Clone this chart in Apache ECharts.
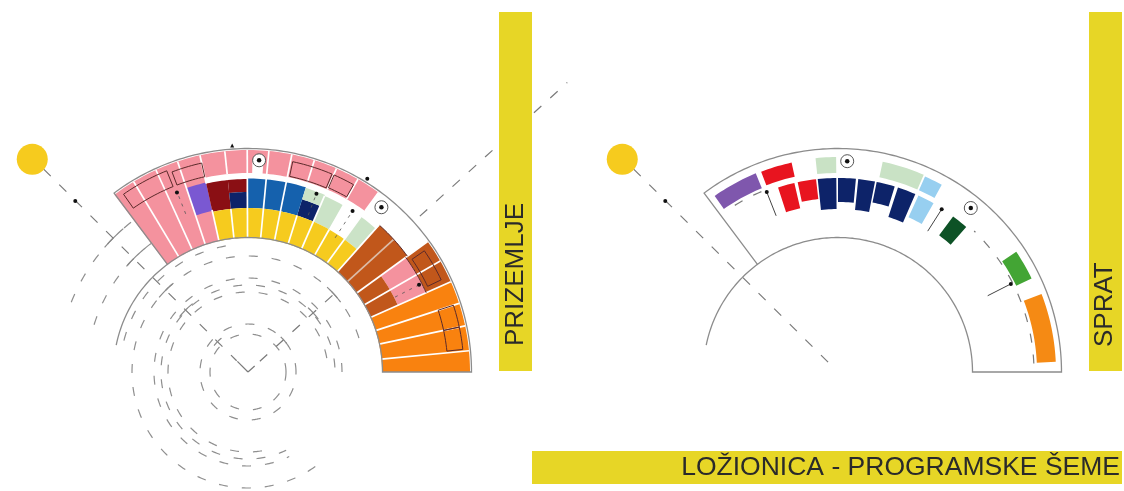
<!DOCTYPE html>
<html>
<head>
<meta charset="utf-8">
<title>Ložionica - programske šeme</title>
<style>
  html, body { margin: 0; padding: 0; background: #fff; }
  #chart { width: 1124px; height: 491px; }
</style>
<script src="https://cdn.jsdelivr.net/npm/echarts@6/dist/echarts.min.js"></script>
</head>
<body>
<div id="chart"></div>
<script>
// all rows are polar: [inner radius, outer radius, start angle, end angle] (degrees, counterclockwise from east)

// prizemlje (left fan)
var pinkCells = [
  [134, 222, 102.5, 127], [199, 222, 54, 102.5], [194, 199, 102.5, 108.5],
  [164, 195, 24, 36]
];
var purpleCells = [[165, 194, 102.5, 108.5]];
var darkRedCells = [[164, 193, 96, 102.5], [180, 193, 90.3, 96]];
var navyCells = [[164, 180, 90.3, 96], [164, 181, 66.5, 72.6]];
var blueCells = [[164, 193.5, 72.6, 90.3]];
var lightGreenCells = [[181, 193, 66.5, 72.6], [164, 192, 60.5, 66.5], [164, 192, 48.5, 54]];
var yellowCells = [[134, 164, 48.5, 102.5]];
var brownCells = [[134, 197, 36, 48.2], [134, 164, 24, 36], [195, 222, 24, 36]];
var orangeCells = [[134, 222, 0, 24]];
var notchCells = [[198, 211, 85.8, 88.8]];
var outlineBoxes = [
  [200, 217, 112, 125], [200, 214, 102.5, 110.8], [200, 215, 67, 78], [201, 215, 60.6, 66.4],
  [199, 214, 25.5, 34.5], [200, 216, 12, 18], [200, 216, 6, 12]
];
var darkArcs = [[197, 36, 48], [195, 24, 36]];

// white lines between the rooms: [angle, from radius, to radius]
var dividers = [
  [121, 134, 222], [114.5, 134, 222], [108.5, 134, 222],
  [102.5, 134, 166], [102.5, 193, 222],
  [96, 134, 164], [96, 199, 222],
  [90.2, 134, 222], [84.6, 134, 222], [78.6, 134, 222],
  [72.6, 134, 164], [72.6, 199, 222],
  [66.5, 134, 192], [66.5, 199, 222],
  [60.3, 134, 164], [60.3, 199, 222],
  [54, 134, 192], [54, 199, 222],
  [48.3, 134, 197],
  [36, 134, 222], [30, 134, 222], [24, 134, 222],
  [18, 134, 222], [12, 134, 222], [5.5, 134, 222]
];
var paleDividers = [[42.3, 134, 197]];

// sprat (right fan)
var upperPurple = [[199, 215, 112.5, 125]];
var upperRed = [[200, 214.5, 102.5, 111], [168, 194, 103, 108], [174, 194, 96.5, 102]];
var upperNavy = [
  [163, 194, 90.5, 96], [170, 194, 84.7, 90], [163, 194, 79, 84],
  [173, 194, 73, 78.5], [163, 194, 66.5, 72]
];
var upperLightGreen = [[199, 215, 90.5, 96], [199, 215, 66.5, 78]];
var upperLightBlue = [[199, 214, 61, 66], [170, 194, 60.5, 65.5]];
var upperDarkGreen = [[170, 193.5, 48.5, 53.5]];
var upperGreen = [[198, 215, 25.8, 34]];
var upperOrange = [[199, 218, 2.7, 21]];

// fan contours: [inner, outer, start, end] and the free inner arc [radius, start, end]
var fanOutline = [134.5, 223.5, 0, 126.8];
var innerArcs = [[134.5, 126.8, 168.5]];

// dashed rings under the left fan: [radius, start, end]
var dashedRings = [
  [38, 0, 360], [48, 0, 360],
  [80, 10, 288], [87, 3, 296], [94, 0, 296],
  [116, 17, 312], [128, 100, 172],
  [161, 127, 167], [190, 128, 160]
];
var upperDashedRings = [[196, 2.5, 46], [196, 113, 125]];

// dashed radials: [angle, from radius, to radius], dashes start at the "from" end
var leftRadials = [[135.2, 288, 16], [42.2, 16, 120], [42.2, 232, 431]];
var rightRadials = [[135.2, 288, 4]];
var centerTicks = [[135.2, 0, 15], [42.2, 0, 9]];

// small ticks where the walk lines cross the rings: [radius, start angle, end angle]
var crossTicks = [[43, 128, 142], [88, 129, 141], [116, 130, 140], [161, 130, 139], [190, 131, 139], [88, 37, 47], [48, 37, 47], [116, 37, 47]];

// entrance arrows: [angle, from radius, to radius]
var leftArrows = [[111.5, 170, 193], [69, 168, 191], [57, 160, 192], [27, 165, 192]];
var rightArrows = [[111.6, 168, 193.5], [57.5, 167, 193], [27, 168, 194]];

// point marks: [radius, angle]
var suns = [[303, 135.4]];
var leftTargets = [[212, 87], [212, 51]];
var rightTargets = [[211, 87.5], [211, 51]];
var leftDots = [[243, 135.3], [193, 111.6], [191, 69], [192, 57], [227, 58.3], [192, 27]];
var rightDots = [[243, 135.3], [193.5, 111.6], [193, 57.5], [194, 27]];
var leftTriangles = [[227, 94]];

var sideLabels = ['PRIZEMLJE', 'SPRAT'];
var footerLabel = 'LOŽIONICA - PROGRAMSKE ŠEME';

var GREY = '#8c8c8c';
var INK = '#2a2a2a';
var BAND = '#e7d626';

function arcPoints(api, r, a0, a1) {
  var pts = [];
  var n = Math.max(2, Math.ceil(Math.abs(a1 - a0)));
  for (var i = 0; i <= n; i++) {
    pts.push(api.coord([r, a0 + (a1 - a0) * i / n]));
  }
  return pts;
}

function sectorPoints(api, r0, r1, a0, a1) {
  return arcPoints(api, r1, a0, a1).concat(arcPoints(api, r0, a1, a0));
}

// filled cells, through the polar axes
function cells(polarIndex, rows, color, z) {
  return {
    type: 'custom',
    coordinateSystem: 'polar',
    polarIndex: polarIndex,
    silent: true,
    z: z || 2,
    data: rows,
    renderItem: function (params, api) {
      return {
        type: 'polygon',
        shape: { points: sectorPoints(api, api.value(0), api.value(1), api.value(2), api.value(3)) },
        style: { fill: color }
      };
    }
  };
}

function boxes(polarIndex, rows, color, width, z) {
  return {
    type: 'custom',
    coordinateSystem: 'polar',
    polarIndex: polarIndex,
    silent: true,
    z: z || 4,
    data: rows,
    renderItem: function (params, api) {
      return {
        type: 'polygon',
        shape: { points: sectorPoints(api, api.value(0), api.value(1), api.value(2), api.value(3)) },
        style: { fill: null, stroke: color, lineWidth: width }
      };
    }
  };
}

function arcs(polarIndex, rows, color, width, dash, z) {
  return {
    type: 'custom',
    coordinateSystem: 'polar',
    polarIndex: polarIndex,
    silent: true,
    z: z || 3,
    data: rows,
    renderItem: function (params, api) {
      return {
        type: 'polyline',
        shape: { points: arcPoints(api, api.value(0), api.value(1), api.value(2)) },
        style: { fill: null, stroke: color, lineWidth: width, lineDash: dash || null }
      };
    }
  };
}

function radials(polarIndex, rows, color, width, dash, z) {
  return {
    type: 'custom',
    coordinateSystem: 'polar',
    polarIndex: polarIndex,
    silent: true,
    z: z || 3,
    data: rows,
    renderItem: function (params, api) {
      return {
        type: 'polyline',
        shape: { points: [api.coord([api.value(1), api.value(0)]), api.coord([api.value(2), api.value(0)])] },
        style: { fill: null, stroke: color, lineWidth: width, lineDash: dash || null }
      };
    }
  };
}

function marks(polarIndex, rows, symbol, size, style, z) {
  style.opacity = 1;
  return {
    type: 'scatter',
    coordinateSystem: 'polar',
    polarIndex: polarIndex,
    silent: true,
    symbol: symbol,
    symbolSize: size,
    itemStyle: style,
    z: z || 6,
    data: rows
  };
}

function targets(polarIndex, rows) {
  return [
    marks(polarIndex, rows, 'circle', 13, { color: '#fff', borderColor: '#555', borderWidth: 1 }),
    marks(polarIndex, rows, 'circle', 4.5, { color: '#111' }, 7)
  ];
}

var series = [
  // left fan
  cells(0, pinkCells, '#f4929e'),
  cells(0, brownCells, '#c1571b'),
  cells(0, orangeCells, '#f9820f'),
  cells(0, purpleCells, '#7a58d2', 3),
  cells(0, darkRedCells, '#8a0f14', 3),
  cells(0, navyCells, '#0d2369', 3),
  cells(0, blueCells, '#1561ad', 3),
  cells(0, lightGreenCells, '#cbe3c7', 3),
  cells(0, yellowCells, '#f6cb1e', 3),
  cells(0, notchCells, '#fff', 3),
  radials(0, dividers, '#fff', 1.7, null, 3),
  radials(0, paleDividers, '#dcbca8', 1.7, null, 3),
  boxes(0, outlineBoxes, '#5c2a2a', 1, 4),
  arcs(0, darkArcs, '#5c2a2a', 1, null, 4),
  boxes(0, [fanOutline], GREY, 1.3, 5),
  arcs(0, innerArcs, GREY, 1.3, null, 5),
  arcs(0, dashedRings, '#8f8f8f', 1.2, [9, 14]),
  radials(0, leftRadials, '#7a7a7a', 1.2, [10, 12]),
  radials(0, centerTicks, '#7a7a7a', 1.2),
  arcs(0, crossTicks, '#8a8a8a', 1.2),
  radials(0, leftArrows, '#555', 0.8, [3, 5], 6),
  marks(0, suns, 'circle', 31, { color: '#f6cb1e' }),
  marks(0, leftDots, 'circle', 4, { color: '#111' }),
  marks(0, leftTriangles, 'triangle', 4, { color: '#111' }),

  // right fan
  cells(1, upperPurple, '#7f57ad'),
  cells(1, upperRed, '#e8141f'),
  cells(1, upperNavy, '#0d2369'),
  cells(1, upperLightGreen, '#c9e2c5'),
  cells(1, upperLightBlue, '#97cff0'),
  cells(1, upperDarkGreen, '#0d5226'),
  cells(1, upperGreen, '#43a534'),
  cells(1, upperOrange, '#f58a14'),
  boxes(1, [fanOutline], GREY, 1.3, 5),
  arcs(1, innerArcs, GREY, 1.3, null, 5),
  arcs(1, upperDashedRings, '#7a7a7a', 1.2, [9, 12]),
  radials(1, rightRadials, '#7a7a7a', 1.2, [10, 12]),
  radials(1, rightArrows, '#444', 1, null, 6),
  marks(1, suns, 'circle', 31, { color: '#f6cb1e' }),
  marks(1, rightDots, 'circle', 4, { color: '#111' })
].concat(targets(0, leftTargets), targets(1, rightTargets));

var chart = echarts.init(document.getElementById('chart'));

chart.setOption({
  animation: false,
  backgroundColor: '#fff',
  polar: [
    { center: [248, 372], radius: [0, 450] },
    { center: [838, 372], radius: [0, 450] }
  ],
  angleAxis: [
    { polarIndex: 0, type: 'value', min: 0, max: 360, startAngle: 0, clockwise: false, show: false },
    { polarIndex: 1, type: 'value', min: 0, max: 360, startAngle: 0, clockwise: false, show: false }
  ],
  radiusAxis: [
    { polarIndex: 0, type: 'value', min: 0, max: 450, show: false },
    { polarIndex: 1, type: 'value', min: 0, max: 450, show: false }
  ],
  series: series,
  graphic: [
    { type: 'rect', z: 9, shape: { x: 499, y: 12, width: 33, height: 359 }, style: { fill: BAND } },
    { type: 'rect', z: 9, shape: { x: 1089, y: 12, width: 33, height: 359 }, style: { fill: BAND } },
    { type: 'rect', z: 9, shape: { x: 532, y: 451, width: 590, height: 33 }, style: { fill: BAND } },
    {
      type: 'text', z: 10, x: 516, y: 346, rotation: Math.PI / 2,
      style: { text: sideLabels[0], fill: INK, font: '26px "Liberation Sans"', textAlign: 'left', textVerticalAlign: 'middle' }
    },
    {
      type: 'text', z: 10, x: 1105, y: 347, rotation: Math.PI / 2,
      style: { text: sideLabels[1], fill: INK, font: '26px "Liberation Sans"', textAlign: 'left', textVerticalAlign: 'middle' }
    },
    {
      type: 'text', z: 10, x: 1120, y: 468,
      style: { text: footerLabel, fill: INK, font: '26.5px "Liberation Sans"', textAlign: 'right', textVerticalAlign: 'middle' }
    }
  ]
});
</script>
</body>
</html>
